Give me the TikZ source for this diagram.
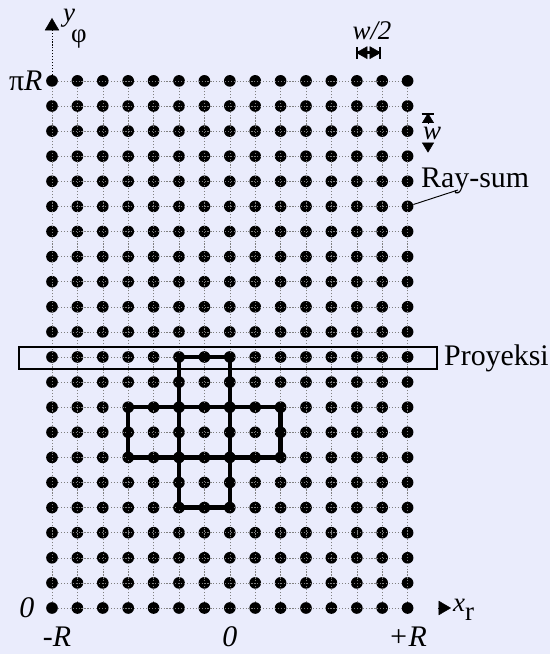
\documentclass[tikz,border=0pt]{standalone}
\usepackage{fontspec}
\setmainfont{Liberation Serif}
\usetikzlibrary{positioning,arrows.meta}
\definecolor{bgpale}{RGB}{234,236,252}
\newcommand{\bigsz}{\fontsize{25.5}{30}\selectfont}
\newcommand{\midsz}{\fontsize{23}{27}\selectfont}

\begin{document}
\begin{tikzpicture}[
  dot/.style={circle,fill=black,inner sep=0pt,minimum size=3.5mm},
  gridln/.style={gray,line width=0.4pt,dash pattern=on 1pt off 1.5pt},
  crossln/.style={line width=3.8pt,line join=miter},
  lbl/.style={inner sep=0pt,font=\bigsz},
  sml/.style={inner sep=0pt,font=\midsz},
  tri/.style={-{Triangle[width=4.3mm,length=3.7mm]}},
  smalltri/.style={-{Triangle[width=3.6mm,length=3mm]}}
]
\fill[bgpale] (-1.56,-1.38) rectangle (14.94,18.24);
\useasboundingbox (-1.56,-1.38) rectangle (14.94,18.24);
\foreach \i in {0,...,14}
  \foreach \j in {0,...,21}
    \node[dot] (p-\i-\j) at (\i*0.762,\j*0.753) {};
\foreach \j in {0,...,21}
  \draw[gridln] (p-0-\j) -- (p-14-\j);
\foreach \i in {0,...,14}
  \draw[gridln] (p-\i-0) -- (p-\i-21);
\draw[crossln] (p-5-4.center) -- (p-5-10.center) -- (p-7-10.center) -- (p-7-4.center) -- cycle;
\draw[crossln] (p-3-6.center) -- (p-9-6.center) -- (p-9-8.center) -- (p-3-8.center) -- cycle;
\node[draw,line width=1.7pt,minimum width=12.54cm,minimum height=0.66cm,inner sep=0pt] (proj) at (5.28,7.5) {};
\node[lbl,right=0.18cm of proj] (projlab) {Proyeksi};
\node[lbl,anchor=west] (raysum) at (11.07,12.81) {Ray-sum};
\coordinate (rsfoot) at (12.18,12.54);
\draw[line width=0.8pt] (rsfoot) -- (p-14-16);
\coordinate (ytip) at (0,17.7);
\draw[gridln,black,tri] (p-0-21) -- (ytip);
\node[sml,anchor=base west] (ylab) at (0.33,17.58) {\textit{y}\raisebox{-0.75em}{\kern-0.15em φ}};
\coordinate (xa) at (11.58,0);
\coordinate (xb) at (11.97,0);
\draw[tri] (xa) -- (xb);
\node[sml,anchor=base west] (xlab) at (12.03,-0.12) {\textit{x}\raisebox{-0.3em}{r}};
\node[lbl,left=0.1cm of p-0-21] (pir) {π\textit{R}};
\node[lbl,left=0.34cm of p-0-0] (yzero) {\textit{0}};
\node[lbl,below=0.38cm of p-0-0,xshift=0.15cm] (xminus) {\textit{-R}};
\node[lbl,below=0.38cm of p-7-0] (xzero) {\textit{0}};
\node[lbl,below=0.38cm of p-14-0] (xplus) {\textit{+R}};
\coordinate (hl) at (9.12,16.66);
\coordinate (hr) at (9.87,16.66);
\draw[line width=2pt,{Bar[width=3.6mm]}-{Bar[width=3.6mm]}] (hl) -- (hr);
\draw[{Triangle[width=3.8mm,length=3.4mm]}-{Triangle[width=3.8mm,length=3.4mm]}] (hl) -- (hr);
\node[sml] (halfw) at (9.6,17.32) {\textit{w/2}};
\node[sml] (wlab) at (11.4,14.25) {\textit{w}};
\coordinate (wtop) at (11.28,14.85);
\coordinate (wtin) at (11.28,14.55);
\coordinate (wbot) at (11.28,13.66);
\coordinate (wbin) at (11.28,13.96);
\draw[smalltri] (wtin) -- (wtop);
\draw[line width=1.6pt,-{Bar[width=3.8mm]}] (wtin) -- (wtop);
\draw[smalltri] (wbin) -- (wbot);
\end{tikzpicture}
\end{document}
